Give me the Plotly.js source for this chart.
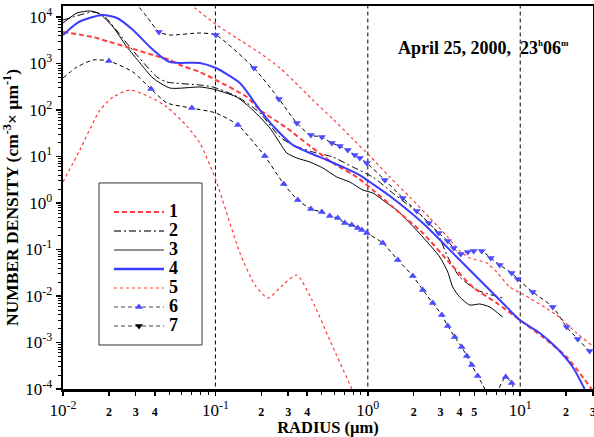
<!DOCTYPE html>
<html>
<head>
<meta charset="utf-8">
<script src="https://cdn.plot.ly/plotly-3.0.1.min.js"></script>
<style>html,body{margin:0;padding:0;background:#fff;}#chart{width:594px;height:437px;}</style>
</head>
<body>
<div id="chart"></div>
<script>
// ---- data (radius in µm, number density in cm^-3 µm^-1) ----
const c1R = [0.01, 0.0157, 0.0203, 0.0263, 0.0389, 0.0503, 0.0585, 0.0791, 0.1007, 0.161, 0.196, 0.294, 0.417, 0.590, 0.847, 1.078, 1.458, 2.295, 3.45, 4.88, 7.01, 9.93, 14.06, 20.18, 29.4];
const c1N = [4760, 3710, 2900, 2260, 1520, 1190, 929, 656, 442, 190, 100, 41.0, 16.8, 7.25, 3.62, 1.90, 0.820, 0.226, 0.0513, 0.0156, 0.00707, 0.00305, 0.00131, 0.000488, 0.0001];

const c2R = [0.01, 0.0157, 0.0183, 0.0275, 0.0413, 0.0481, 0.0791, 0.0963, 0.1405, 0.196, 0.265, 0.322, 0.436, 0.590, 0.797, 1.078, 1.458, 2.295, 2.835, 3.347, 4.009, 5.19, 7.67];
const c2N = [8610, 12800, 11040, 2260, 513, 400, 345, 313, 190, 86.2, 26.2, 17.7, 12.5, 9.76, 5.95, 3.62, 1.64, 0.500, 0.238, 0.069, 0.0256, 0.0135, 0.00906];

const c3R = [0.01, 0.01236, 0.01503, 0.01748, 0.0213, 0.0263, 0.0320, 0.0389, 0.0503, 0.0791, 0.0963, 0.138, 0.176, 0.2277, 0.265, 0.294, 0.342, 0.417, 0.507, 0.626, 0.762, 0.927, 1.078, 1.332, 1.549, 1.802, 2.295, 2.966, 3.347, 3.607, 4.009, 4.67, 5.42, 6.31, 7.67];
const c3N = [7430, 12200, 13500, 11600, 6090, 2260, 1030, 488, 297, 313, 283, 190, 100, 41.0, 19.5, 11.9, 9.29, 7.62, 5.66, 3.62, 2.83, 1.90, 1.64, 1.0, 0.707, 0.431, 0.186, 0.069, 0.0328, 0.0156, 0.0095, 0.0064, 0.00673, 0.0058, 0.00353];

const c4R = [0.01, 0.01236, 0.0157, 0.0183, 0.0226, 0.0288, 0.0372, 0.0453, 0.0503, 0.0585, 0.0791, 0.1007, 0.1448, 0.196, 0.253, 0.322, 0.417, 0.538, 0.685, 0.886, 1.031, 1.394, 2.295, 3.834, 5.67, 7.67, 9.93, 13.43, 17.35, 22.08, 26.47];
const c4N = [4100, 7430, 10000, 11040, 9520, 5250, 2260, 1310, 1080, 1030, 1030, 800, 381, 100, 37.1, 17.7, 11.9, 8.41, 5.95, 4.00, 2.83, 1.42, 0.371, 0.069, 0.0191, 0.00707, 0.00305, 0.0016, 0.00076, 0.000297, 0.0001];

// curve 5: lower branch and upper branch
const c5aR = [0.01, 0.0129, 0.01748, 0.0213, 0.0275, 0.0372, 0.0481, 0.0650, 0.0791, 0.1007, 0.1448, 0.1816, 0.221, 0.277, 0.342, 0.430, 0.563, 0.785, 0.86];
const c5aN = [2.83, 13.8, 100, 190, 269, 190, 116, 45, 19.5, 3.12, 0.0841, 0.0173, 0.00906, 0.0173, 0.0283, 0.0082, 0.00113, 0.0001, 0.00005];
const c5bR = [0.0631, 0.0734, 0.102, 0.138, 0.196, 0.265, 0.358, 0.436, 0.590, 0.797, 1.031, 1.394, 1.885, 2.551, 3.296, 4.009, 4.67, 6.03, 7.01, 8.53, 10.38, 17.35, 23.45, 29.4, 30.5];
const c5bN = [23200, 15600, 6730, 3530, 1680, 800, 313, 164, 64, 23.8, 10.3, 3.62, 1.35, 0.476, 0.195, 0.0929, 0.0657, 0.0513, 0.0328, 0.0156, 0.0110, 0.0039, 0.0016, 0.00088, 0.00083];

// curve 6: fitted line and measured points
const c6R = [0.01, 0.01236, 0.0157, 0.0200, 0.0288, 0.0378, 0.0481, 0.0701, 0.1007, 0.1405, 0.196, 0.211, 0.281, 0.347, 0.423, 0.499, 0.563, 0.635, 0.706, 0.785, 0.859, 0.914, 0.985, 1.254, 1.573, 1.973, 2.295, 2.668, 3.056, 3.347, 3.719, 4.13, 4.46, 4.81, 5.26, 5.85, 6.3, 6.9, 7.23, 8.03, 8.79, 9.06, 9.4];
const c6N = [488, 841, 1190, 1130, 656, 283, 142, 110, 86.2, 47.6, 13.8, 10.3, 2.56, 1.16, 0.743, 0.640, 0.525, 0.476, 0.371, 0.336, 0.290, 0.262, 0.226, 0.138, 0.0595, 0.0269, 0.0135, 0.00707, 0.0039, 0.00226, 0.00131, 0.0008, 0.000513, 0.000328, 0.00019, 0.0001, 0.00004, 0.00004, 0.0001, 0.000181, 0.000135, 0.0001, 0.00005];
const m6R = [0.0200, 0.0378, 0.0701, 0.1405, 0.211, 0.281, 0.347, 0.423, 0.499, 0.563, 0.635, 0.706, 0.785, 0.859, 0.914, 0.985, 1.254, 1.573, 1.973, 2.295, 2.668, 3.056, 3.347, 3.719, 4.13, 4.46, 4.81, 5.26, 8.03, 8.79];
const m6N = [1130, 283, 110, 47.6, 10.3, 2.56, 1.16, 0.743, 0.640, 0.525, 0.476, 0.371, 0.336, 0.290, 0.262, 0.226, 0.138, 0.0595, 0.0269, 0.0135, 0.00707, 0.0039, 0.00226, 0.00131, 0.0008, 0.000513, 0.000328, 0.00019, 0.000181, 0.000135];

// curve 7: fitted line and measured points
const c7R = [0.0297, 0.0356, 0.0426, 0.0503, 0.0791, 0.1007, 0.179, 0.261, 0.342, 0.417, 0.499, 0.581, 0.655, 0.739, 0.821, 0.886, 0.985, 1.292, 1.696, 2.095, 2.512, 2.922, 3.347, 3.662, 4.07, 4.53, 4.95, 5.59, 6.41, 7.34, 8.79, 9.63, 12.08, 16.34, 20.18, 23.8, 28.55, 29.9];
const c7N = [21000, 10000, 4760, 4100, 4530, 4100, 800, 173, 52.5, 29.0, 26.2, 19.5, 16.8, 13.8, 10.8, 9.29, 7.25, 3.12, 1.28, 0.673, 0.371, 0.226, 0.152, 0.108, 0.080, 0.0884, 0.0929, 0.0929, 0.0657, 0.0464, 0.0313, 0.0232, 0.0122, 0.0058, 0.00215, 0.00119, 0.00066, 0.000625];
const m7R = [0.0426, 0.1007, 0.179, 0.261, 0.342, 0.423, 0.499, 0.581, 0.655, 0.739, 0.821, 0.886, 0.985, 1.292, 1.696, 2.095, 2.512, 2.922, 3.347, 3.662, 4.07, 4.53, 4.95, 5.59, 6.41, 7.34, 8.79, 9.63, 12.08, 16.34, 20.18, 23.8, 28.55];
const m7N = [4760, 4100, 800, 173, 52.5, 29.0, 26.2, 19.5, 16.8, 13.8, 10.8, 9.29, 7.25, 3.12, 1.28, 0.673, 0.371, 0.226, 0.152, 0.108, 0.080, 0.0884, 0.0929, 0.0929, 0.0657, 0.0464, 0.0313, 0.0232, 0.0122, 0.0058, 0.00215, 0.00119, 0.00066];

const refLines = [0.1, 1, 10];
const legendNames = ['1', '2', '3', '4', '5', '6', '7'];

const xTickVals = [0.01, 0.02, 0.03, 0.04, 0.1, 0.2, 0.3, 0.4, 1, 2, 3, 4, 5, 10, 20, 30];
const xTickText = ['10<sup>-2</sup>', '2', '3', '4', '10<sup>-1</sup>', '2', '3', '4', '10<sup>0</sup>', '2', '3', '4', '5', '10<sup>1</sup>', '2', '3'];
const yTickVals = [1e-4, 1e-3, 1e-2, 1e-1, 1, 10, 100, 1000, 10000];
const yTickText = ['10<sup>-4</sup>', '10<sup>-3</sup>', '10<sup>-2</sup>', '10<sup>-1</sup>', '10<sup>0</sup>', '10<sup>1</sup>', '10<sup>2</sup>', '10<sup>3</sup>', '10<sup>4</sup>'];

// ---- styling ----
const RED = '#ff3b3b', BLUE = '#3c3cff', MBLUE = '#4b4bff';
const FONT = 'Liberation Serif, Times New Roman, serif';
const SPL = {shape: 'spline', smoothing: 0.6};

function minorVals(lo, hi) {
  const v = [];
  for (let e = lo; e < hi; e++) for (let k = 2; k <= 9; k++) v.push(k * Math.pow(10, e));
  return v;
}
function tt(txt) { // small labels for intermediate ticks
  return txt.indexOf('<sup>') >= 0 ? txt : '<span style="font-size:12px;font-weight:bold">' + txt + '</span>';
}

const traces = [];
refLines.forEach(v => traces.push({x: [v, v], y: [1e-5, 1e5], mode: 'lines', showlegend: false, hoverinfo: 'skip',
  line: {color: '#000', width: 1, dash: '4px,3px'}}));

traces.push({x: c5aR, y: c5aN, mode: 'lines', showlegend: false, line: Object.assign({color: RED, width: 1.2, dash: 'dot'}, SPL)});
traces.push({x: c5bR, y: c5bN, mode: 'lines', showlegend: false, line: Object.assign({color: RED, width: 1.2, dash: 'dot'}, SPL)});
traces.push({x: c6R, y: c6N, mode: 'lines', showlegend: false, line: Object.assign({color: '#000', width: 1, dash: '4px,3px'}, SPL)});
traces.push({x: c7R, y: c7N, mode: 'lines', showlegend: false, line: Object.assign({color: '#000', width: 1, dash: '4px,3px'}, SPL)});
traces.push({x: c2R, y: c2N, mode: 'lines', showlegend: false, line: Object.assign({color: '#000', width: 1, dash: '7px,3px,2px,3px'}, SPL)});
traces.push({x: c3R, y: c3N, mode: 'lines', showlegend: false, line: Object.assign({color: '#000', width: 1}, SPL)});
traces.push({x: c1R, y: c1N, mode: 'lines', showlegend: false, line: Object.assign({color: RED, width: 2, dash: '5px,3px'}, SPL)});
traces.push({x: c4R, y: c4N, mode: 'lines', showlegend: false, line: Object.assign({color: BLUE, width: 2}, SPL)});
traces.push({x: m6R, y: m6N, mode: 'markers', showlegend: false, marker: {symbol: 'triangle-up', size: 7, color: MBLUE}});
traces.push({x: m7R, y: m7N, mode: 'markers', showlegend: false, marker: {symbol: 'triangle-down', size: 7, color: MBLUE}});

// legend entries
const legStyles = [
  {mode: 'lines', line: {color: RED, width: 2, dash: '5px,3px'}},
  {mode: 'lines', line: {color: '#444', width: 1.5, dash: '7px,3px,2px,3px'}},
  {mode: 'lines', line: {color: '#222', width: 1.2}},
  {mode: 'lines', line: {color: BLUE, width: 2.5}},
  {mode: 'lines', line: {color: RED, width: 1.2, dash: 'dot'}},
  {mode: 'lines+markers', line: {color: '#444', width: 1.2, dash: '4px,3px'}, marker: {symbol: 'triangle-up', size: 7, color: MBLUE}},
  {mode: 'lines+markers', line: {color: '#444', width: 1.2, dash: '4px,3px'}, marker: {symbol: 'triangle-down', size: 7, color: '#000'}}
];
legendNames.forEach((n, i) => traces.push(Object.assign({x: [null], y: [null],
  name: '<span style="font-size:18px;font-weight:bold">' + n + '</span>', showlegend: true}, legStyles[i])));

const axisCommon = {
  type: 'log', showline: true, linecolor: '#000', linewidth: 2.5, mirror: true,
  ticks: 'outside', ticklen: 5, tickwidth: 1.5, tickcolor: '#000',
  showgrid: false, zeroline: false, tickmode: 'array', ticklabeloverflow: 'allow',
  tickfont: {family: FONT, size: 17, color: '#000'},
};

const layout = {
  width: 594, height: 437,
  margin: {l: 63, r: 1, t: 6, b: 48},
  paper_bgcolor: '#fff', plot_bgcolor: '#fff',
  showlegend: true,
  xaxis: Object.assign({}, axisCommon, {
    range: [-2, 1.4775], ticklen: 4,
    tickvals: xTickVals, ticktext: xTickText.map(tt),
    minor: {tickmode: 'array', tickvals: minorVals(-2, 2), ticks: 'outside', ticklen: 3, tickwidth: 1, tickcolor: '#000', showgrid: false},
    title: {text: '<b>RADIUS (µm)</b>', font: {family: FONT, size: 16.5, color: '#000'}, standoff: 8}
  }),
  yaxis: Object.assign({}, axisCommon, {
    range: [-4, 4.237],
    tickvals: yTickVals, ticktext: yTickText,
    minor: {tickmode: 'array', tickvals: minorVals(-4, 5), ticks: 'outside', ticklen: 3, tickwidth: 1, tickcolor: '#000', showgrid: false},
    title: {text: '<b>NUMBER DENSITY (cm<sup>-3</sup>× µm<sup>-1</sup>)</b>', font: {family: FONT, size: 17.5, color: '#000'}, standoff: 2}
  }),
  legend: {
    x: 0.0868, y: 0.5, xanchor: 'left', yanchor: 'top',
    bgcolor: 'rgba(0,0,0,0)', borderwidth: 0,
    font: {family: FONT, size: 12, color: '#000'},
    itemwidth: 50, tracegroupgap: 0
  },
  shapes: [{
    type: 'rect', xref: 'paper', yref: 'paper', x0: 0.0679, x1: 0.2623, y0: 0.1149, y1: 0.5379,
    line: {color: '#333', width: 1}, fillcolor: '#fff', layer: 'above'
  }],
  annotations: [{
    xref: 'paper', yref: 'paper', x: 0.628, y: 0.890, xanchor: 'left', yanchor: 'middle', showarrow: false,
    text: '<b>April 25, 2000,  23<sup><span style="font-size:9px">h</span></sup>06<sup><span style="font-size:9px">m</span></sup></b>',
    font: {family: FONT, size: 18, color: '#000'}
  }]
};

Plotly.newPlot('chart', traces, layout, {staticPlot: true, displayModeBar: false});
</script>
</body>
</html>
